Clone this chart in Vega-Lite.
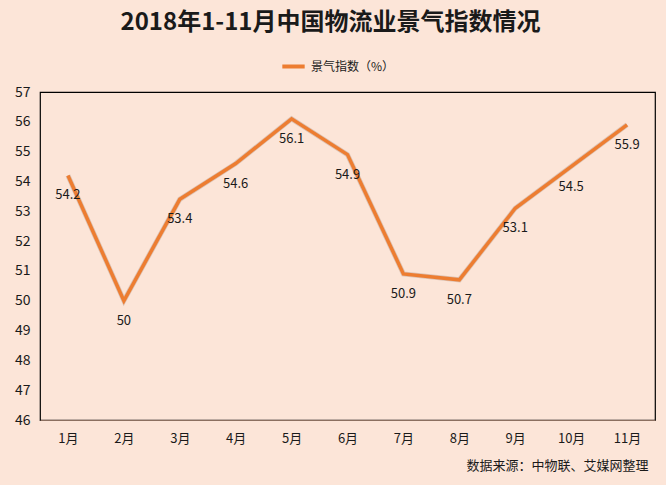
{
  "$schema": "https://vega.github.io/schema/vega-lite/v6.json",
  "width": 615,
  "height": 328,
  "autosize": {"type": "none"},
  "padding": {"left": 40, "top": 92, "right": 11, "bottom": 65},
  "background": "#FCE5D8",
  "config": {
    "font": "Noto Sans CJK SC",
    "view": {"stroke": "#000000", "strokeWidth": 1.2, "fill": "#FCE5D8"}
  },
  "title": {
    "text": "2018年1-11月中国物流业景气指数情况",
    "fontSize": 24,
    "fontWeight": "bold",
    "color": "#1a1a1a",
    "anchor": "middle",
    "dx": -17,
    "offset": 18,
    "font": "Noto Sans CJK SC"
  },
  "data": {
    "values": [
      {"month": "1月", "value": 54.2, "series": "景气指数（%）"},
      {"month": "2月", "value": 50, "series": "景气指数（%）"},
      {"month": "3月", "value": 53.4, "series": "景气指数（%）"},
      {"month": "4月", "value": 54.6, "series": "景气指数（%）"},
      {"month": "5月", "value": 56.1, "series": "景气指数（%）"},
      {"month": "6月", "value": 54.9, "series": "景气指数（%）"},
      {"month": "7月", "value": 50.9, "series": "景气指数（%）"},
      {"month": "8月", "value": 50.7, "series": "景气指数（%）"},
      {"month": "9月", "value": 53.1, "series": "景气指数（%）"},
      {"month": "10月", "value": 54.5, "series": "景气指数（%）"},
      {"month": "11月", "value": 55.9, "series": "景气指数（%）"}
    ]
  },
  "encoding": {
    "x": {
      "field": "month",
      "type": "ordinal",
      "sort": null,
      "scale": {"paddingInner": 0, "paddingOuter": 0.5},
      "axis": {
        "title": "数据来源：中物联、艾媒网整理",
        "titleAnchor": "end",
        "titleAlign": "right",
        "titleFontSize": 13,
        "titleFontWeight": "normal",
        "titleColor": "#1a1a1a",
        "titlePadding": 14,
        "titleX": 608,
        "labelAngle": 0,
        "labelFontSize": 13,
        "labelColor": "#1a1a1a",
        "labelPadding": 12,
        "ticks": false,
        "domainColor": "#8B6F60",
        "domainWidth": 1.2
      }
    },
    "y": {
      "field": "value",
      "type": "quantitative",
      "scale": {"domain": [46, 57], "nice": false, "zero": false},
      "axis": {
        "title": null,
        "values": [46, 47, 48, 49, 50, 51, 52, 53, 54, 55, 56, 57],
        "labelOverlap": false,
        "grid": false,
        "ticks": false,
        "domain": false,
        "labelFontSize": 14,
        "labelColor": "#1a1a1a",
        "labelPadding": 10
      }
    }
  },
  "layer": [
    {
      "mark": {"type": "line", "strokeWidth": 5, "color": "#7a5a4a", "opacity": 0.25, "strokeJoin": "miter"},
      "encoding": {}
    },
    {
      "mark": {"type": "line", "strokeWidth": 3.5, "strokeJoin": "miter"},
      "encoding": {
        "color": {
          "field": "series",
          "type": "nominal",
          "scale": {"range": ["#ED7D31"]},
          "legend": {
            "title": null,
            "orient": "none",
            "legendX": 240,
            "legendY": -39,
            "direction": "horizontal",
            "symbolType": "stroke",
            "symbolStrokeWidth": 4,
            "symbolSize": 500,
            "labelFontSize": 12,
            "labelColor": "#1a1a1a"
          }
        }
      }
    },
    {
      "mark": {"type": "text", "dy": 20, "fontSize": 13, "color": "#1a1a1a"},
      "encoding": {"text": {"field": "value", "type": "quantitative"}}
    }
  ]
}
